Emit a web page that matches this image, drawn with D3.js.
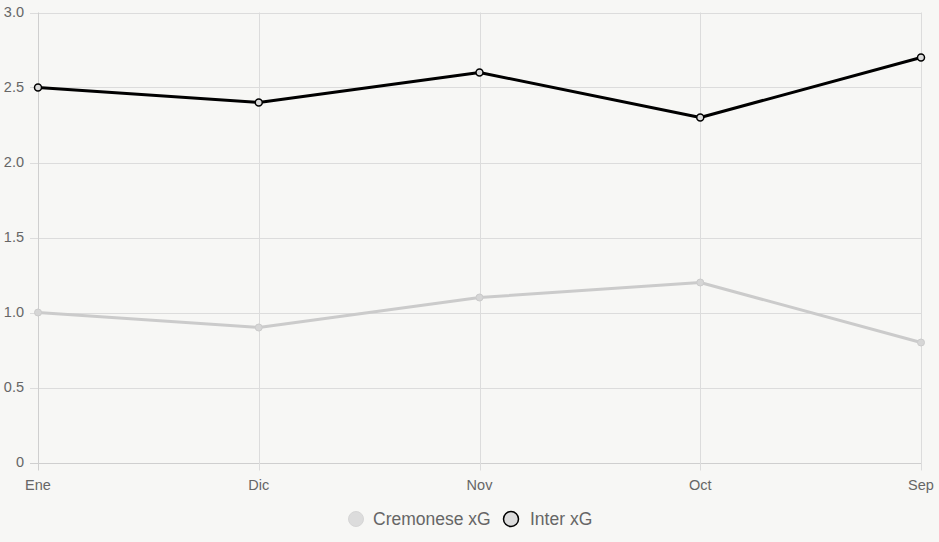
<!DOCTYPE html>
<html><head><meta charset="utf-8">
<script src="https://cdn.jsdelivr.net/npm/d3@7"></script>
<style>
html,body{margin:0;padding:0;background:#f7f7f5;}
svg{display:block;font-family:"Liberation Sans",Arial,sans-serif;}
</style></head><body>
<svg id="c" width="939" height="542"></svg>
<script>
const categories = ["Ene","Dic","Nov","Oct","Sep"];
const cremonese = [1.0,0.9,1.1,1.2,0.8];
const inter = [2.5,2.4,2.6,2.3,2.7];
const yTicks = [0,0.5,1.0,1.5,2.0,2.5,3.0];
const seriesNames = ["Cremonese xG","Inter xG"];

(function(){
const svg = d3.select("#c");
const W=939,H=542;
svg.append("rect").attr("width",W).attr("height",H).attr("fill","#f7f7f5");
const pL=38,pR=921,pT=12.5,pB=462.5;
const x = d3.scalePoint().domain(categories).range([pL,pR]);
const y = d3.scaleLinear().domain([0,3]).range([pB,pT]);
const grid="#dcdcdc";
const g = svg.append("g");
yTicks.forEach(t=>{
  g.append("line").attr("x1",pL-8).attr("x2",pR).attr("y1",Math.round(y(t))+0.5).attr("y2",Math.round(y(t))+0.5).attr("stroke",t===0?"#cfcfcf":grid).attr("stroke-width",1);
  g.append("text").attr("x",pL-14).attr("y",y(t)-1).attr("dy","0.35em").attr("text-anchor","end").attr("fill","#666").attr("font-size",14.5).text(t===0?"0":d3.format(".1f")(t));
});
categories.forEach((c,i)=>{
  g.append("line").attr("x1",Math.round(x(c))+0.5).attr("x2",Math.round(x(c))+0.5).attr("y1",pT).attr("y2",pB+8).attr("stroke",i===0?"#cfcfcf":grid).attr("stroke-width",1);
  g.append("text").attr("x",x(c)).attr("y",pB+27).attr("text-anchor","middle").attr("fill","#666").attr("font-size",14.5).text(c);
});
const line = d3.line().x((d,i)=>x(categories[i])).y(d=>y(d));
svg.append("path").datum(cremonese).attr("d",line).attr("fill","none").attr("stroke","#cbcbcb").attr("stroke-width",3).attr("stroke-linejoin","round");
svg.selectAll(".pc").data(cremonese).enter().append("circle").attr("cx",(d,i)=>x(categories[i])).attr("cy",d=>y(d)).attr("r",3.5).attr("fill","#d6d6d6").attr("stroke","#cbcbcb").attr("stroke-width",1);
svg.append("path").datum(inter).attr("d",line).attr("fill","none").attr("stroke","#000").attr("stroke-width",3).attr("stroke-linejoin","round");
svg.selectAll(".pi").data(inter).enter().append("circle").attr("cx",(d,i)=>x(categories[i])).attr("cy",d=>y(d)).attr("r",3.5).attr("fill","#dcdcdc").attr("stroke","#000").attr("stroke-width",1.5);
const lg = svg.append("g");
lg.append("circle").attr("cx",356).attr("cy",519).attr("r",7.5).attr("fill","#dcdcdc").attr("stroke","#d6d6d6").attr("stroke-width",1);
lg.append("text").attr("x",373).attr("y",519).attr("dy","0.35em").attr("fill","#666").attr("font-size",17.5).text(seriesNames[0]);
lg.append("circle").attr("cx",511).attr("cy",519).attr("r",7.5).attr("fill","#dcdcdc").attr("stroke","#000").attr("stroke-width",1.5);
lg.append("text").attr("x",530).attr("y",519).attr("dy","0.35em").attr("fill","#666").attr("font-size",17.5).text(seriesNames[1]);
})();
</script>
</body></html>
